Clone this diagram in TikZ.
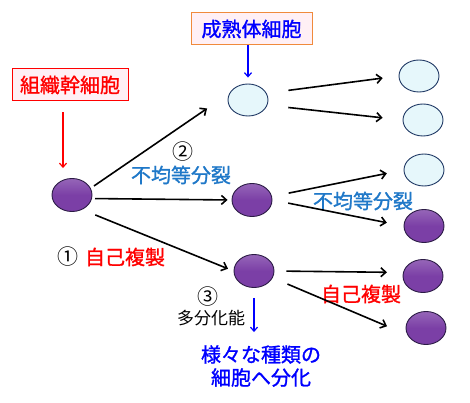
\documentclass[tikz,border=0pt]{standalone}
\usepackage{fontspec}
\setmainfont{Noto Sans CJK JP}
\newfontfamily\heavyjp{Noto Sans CJK JP}[FakeBold=1.2]
\usetikzlibrary{arrows.meta,shapes.geometric}

\definecolor{cellpurple}{HTML}{7B3FA6}
\definecolor{celledge}{HTML}{2B1B45}
\definecolor{paleblue}{HTML}{E6F7FB}
\definecolor{navyedge}{HTML}{1F3864}
\definecolor{steelblue}{HTML}{1F78C8}
\definecolor{boxpink}{HTML}{FFF0F5}
\definecolor{boxorange}{HTML}{F08A3C}

\tikzset{
  stemcell/.style={ellipse,draw=celledge,top color=cellpurple!80!white,bottom color=cellpurple,middle color=cellpurple,line width=0.9pt,minimum width=40pt,minimum height=33pt,inner sep=0pt},
  maturecell/.style={ellipse,draw=navyedge,fill=paleblue,line width=0.9pt,minimum width=40pt,minimum height=32pt,inner sep=0pt},
  labelbox/.style={draw,line width=1pt,fill=boxpink,minimum height=32pt,inner xsep=6pt,font=\heavyjp\fontsize{20}{23}\selectfont},
  bigtext/.style={font=\heavyjp\fontsize{20}{23}\selectfont,inner sep=1pt},
  numtext/.style={font=\fontsize{21}{24}\selectfont,inner sep=1pt},
  arr/.style={-{Straight Barb[length=5pt,width=9pt]},line width=1.6pt},
  thinarr/.style={-{Straight Barb[length=4pt,width=7pt]},line width=1.2pt}
}

\begin{document}
\begin{tikzpicture}[x=1pt,y=-1pt]
  \useasboundingbox (0,0) rectangle (470,403);

  % cells
  \node[stemcell]   (stem)   at (72,195)  {};
  \node[maturecell] (mature) at (248,100) {};
  \node[stemcell]   (middle) at (252,200) {};
  \node[stemcell]   (lower)  at (254,271) {};
  \node[maturecell] (r1) at (419,76)  {};
  \node[maturecell] (r2) at (423,120) {};
  \node[maturecell] (r3) at (424,170) {};
  \node[stemcell]   (r4) at (424,226) {};
  \node[stemcell]   (r5) at (423,276) {};
  \node[stemcell]   (r6) at (426,328) {};

  % labels
  \node[labelbox,draw=red,text=red,minimum width=116pt] (stembox) at (70,85) {組織幹細胞};
  \node[labelbox,draw=boxorange,text=blue,minimum width=121pt] (maturebox) at (251.5,29) {成熟体細胞};
  \node[numtext] (n2) at (183,152) {②};
  \node[bigtext,text=steelblue] (asym1) at (181,175) {不均等分裂};
  \node[bigtext,text=steelblue] (asym2) at (363,201) {不均等分裂};
  \node[numtext] (n1) at (68,257) {①};
  \node[bigtext,text=red] (self1) at (125,257) {自己複製};
  \node[bigtext,text=red] (self2) at (361,294) {自己複製};
  \node[numtext] (n3) at (208,297) {③};
  \node[font=\fontsize{17}{20}\selectfont,inner sep=1pt] (multi) at (211,318) {多分化能};
  \node[bigtext,text=blue,align=center] (diff) at (261,366) {様々な種類の\\細胞へ分化};

  % divisions
  \path[arr]
    (stem.20)   edge [shorten <=4pt,shorten >=27pt] (mature.160)
    (stem.-10)  edge [shorten <=3pt,shorten >=4pt]  (middle.west)
    (stem.-55)  edge [shorten <=14pt,shorten >=6pt] (lower.west)
    (mature.20) edge [shorten <=22pt,shorten >=16pt] (r1.west)
    (mature.-15) edge [shorten <=21pt,shorten >=20pt] (r2.west)
    (middle.10) edge [shorten <=17pt,shorten >=17pt] (r3.west)
    (middle.east) edge [shorten <=16pt,shorten >=17pt] (r4.west)
    (lower.east) edge [shorten <=12pt,shorten >=16pt] (r5.170)
    (lower.-20) edge [shorten <=16pt,shorten >=22pt] (r6.200);

  % pointers
  \draw[thinarr,red] ([xshift=-7pt]stembox.south) -- ([xshift=-9pt]stem.north)
    [shorten <=11pt,shorten >=10pt];
  \draw[thinarr,blue,shorten >=6pt] (maturebox.south -| mature.north) -- (mature.north);
  \draw[thinarr,blue,shorten <=10pt,shorten >=12pt] (lower.south) -- (lower.south |- diff.north);
\end{tikzpicture}
\end{document}
